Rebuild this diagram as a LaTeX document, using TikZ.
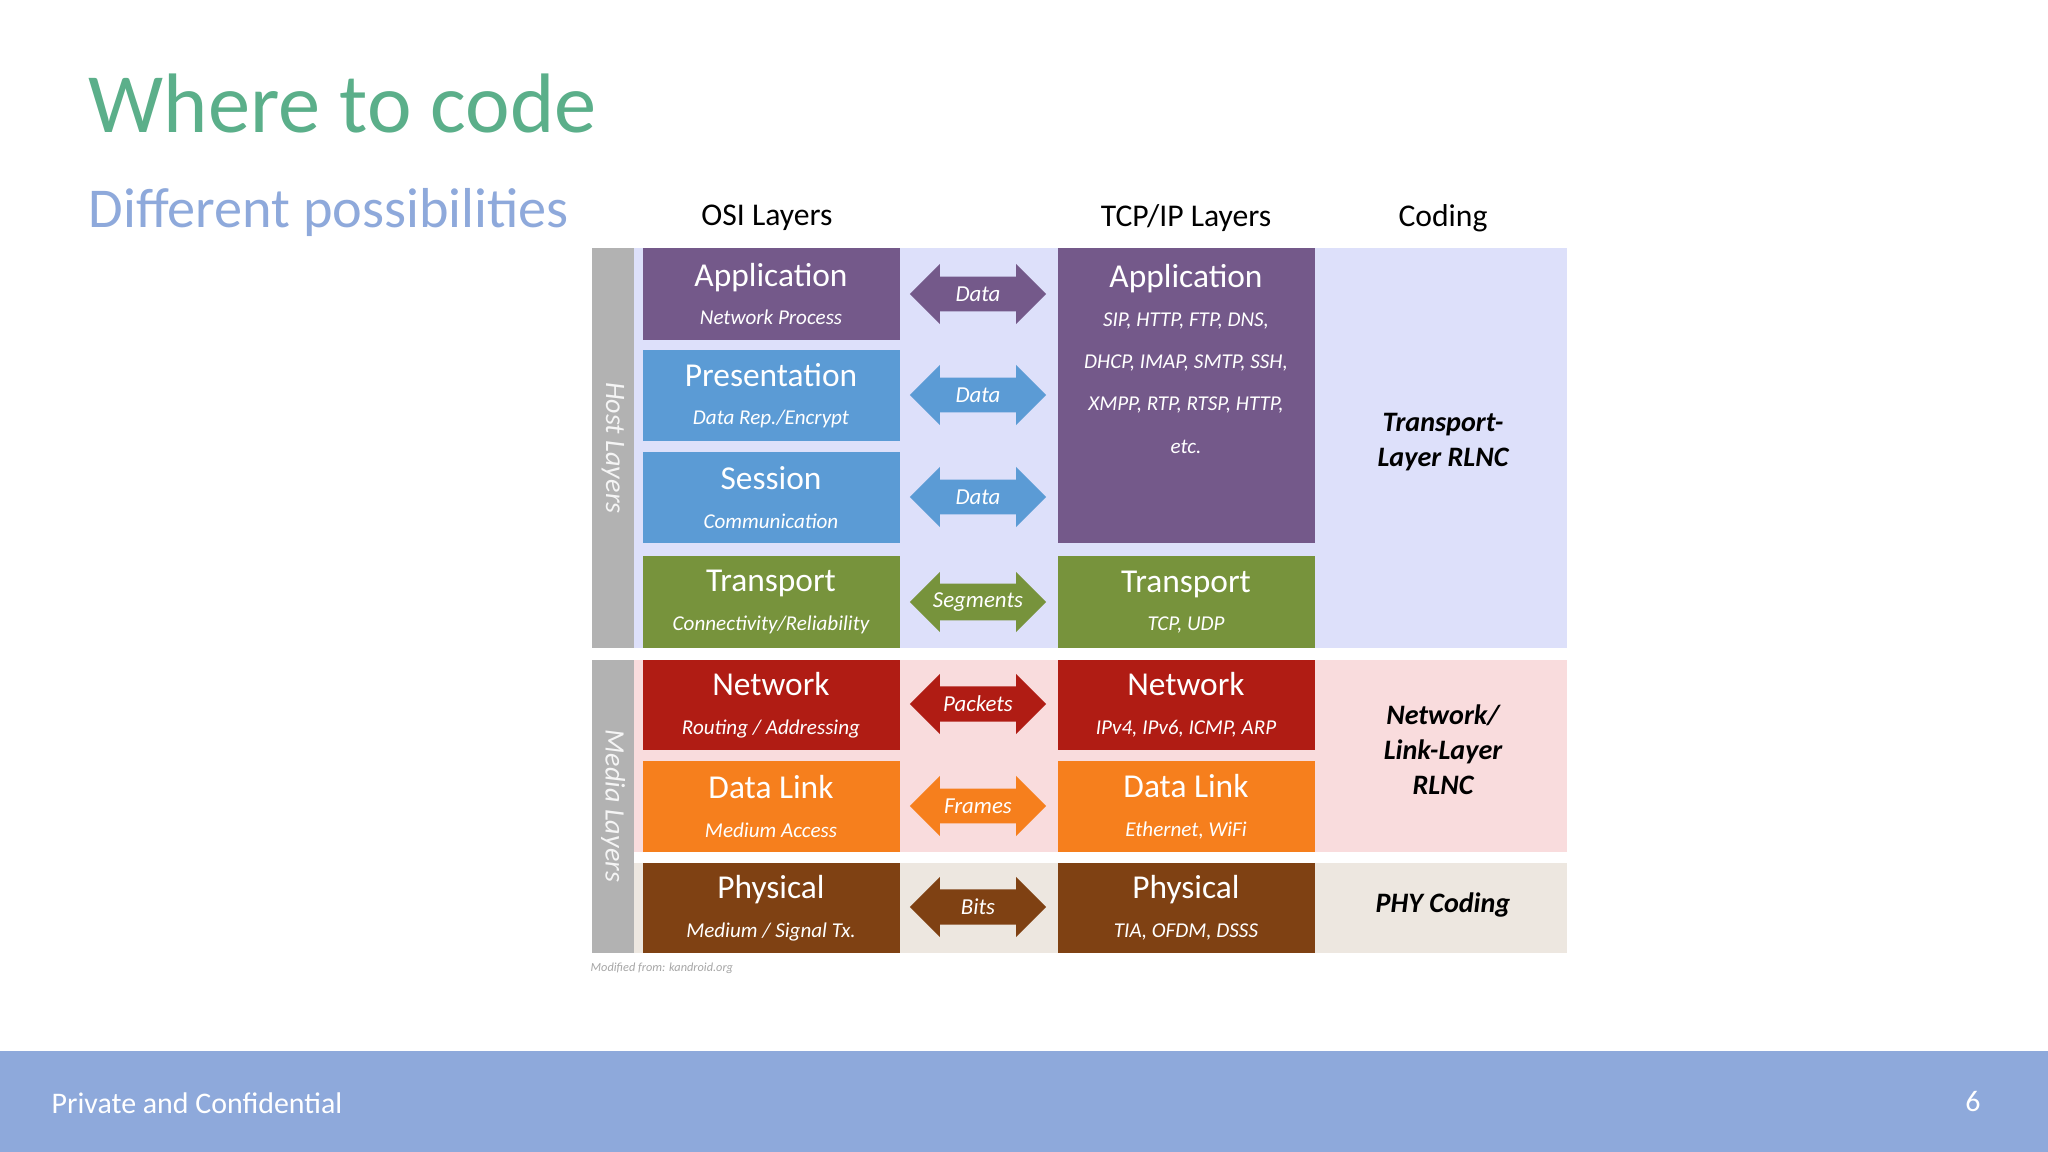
\documentclass[tikz,border=0pt]{standalone}
\usepackage{fontspec}
\setmainfont{Carlito}
\usetikzlibrary{shapes.arrows}
\definecolor{cpur}{HTML}{74598A}
\definecolor{cblu}{HTML}{5B9BD5}
\definecolor{cgrn}{HTML}{77933C}
\definecolor{cred}{HTML}{B01C14}
\definecolor{cora}{HTML}{F67F1D}
\definecolor{cbrn}{HTML}{7F4113}
\definecolor{clav}{HTML}{DDE0FA}
\definecolor{cpnk}{HTML}{F9DCDD}
\definecolor{cbei}{HTML}{EDE7E0}
\definecolor{cbar}{HTML}{8EA9DB}
\definecolor{ctit}{HTML}{5BAF8A}
\newcommand{\bigt}{\fontsize{9.5}{11}\selectfont\upshape}
\newcommand{\smt}{\fontsize{6}{8.2}\selectfont\itshape}
\begin{document}
\begin{tikzpicture}[x=0.01cm,y=-0.01cm,
  arr/.style={double arrow,fill=#1,draw=none,text=white,minimum height=1.36cm,minimum width=0.6cm,double arrow head extend=0.11cm,inner xsep=1pt,inner ysep=0.07cm,font=\fontsize{6.5}{7}\selectfont\itshape},
  hdr/.style={font=\fontsize{9}{11}\selectfont},
  cod/.style={font=\fontsize{8}{10}\selectfont\bfseries\itshape,align=center}]
\useasboundingbox (0,0) rectangle (2048,1152);
\fill[white] (0,0) rectangle (2048,1152);
% backgrounds
\fill[clav] (634,248) rectangle (1567,648);
\fill[cpnk] (634,660) rectangle (1567,852);
\fill[cbei] (634,863) rectangle (1567,953);
% side bars
\fill[gray!60] (592,248) rectangle (634,648);
\fill[gray!60] (592,660) rectangle (634,953);
\node[rotate=-90,text=white!92!gray,font=\fontsize{8}{10}\selectfont\itshape] (host) at (613,448) {Host Layers};
\node[rotate=-90,text=white!92!gray,font=\fontsize{8}{10}\selectfont\itshape] (media) at (613,806) {Media Layers};
% title
\node[anchor=base west,text=ctit,font=\fontsize{24}{28}\selectfont,inner sep=0pt] (title) at (88,133) {Where to code};
\node[anchor=base west,text=cbar,font=\fontsize{16}{20}\selectfont,inner sep=0pt] (subt) at (88,228) {Different possibilities};
% headers
\node[hdr] (h1) at (767,218) {OSI Layers};
\node[hdr] (h2) at (1186,218) {TCP/IP Layers};
\node[hdr] (h3) at (1443,218) {Coding};
% boxes
\newcommand{\lbox}[7]{%
  \fill[#4] (#1,#2) rectangle ++(257,#3);
  \node[text=white,align=center,inner sep=0pt] (#7) at ({#1+128},{#2+#3/2}) {\bigt #5\\[-1pt]\smt #6};}
\lbox{643}{248}{92}{cpur}{Application}{Network Process}{oapp}
\lbox{643}{350}{91}{cblu}{Presentation}{Data Rep./Encrypt}{opre}
\lbox{643}{452}{91}{cblu}{Session}{Communication}{oses}
\lbox{643}{556}{92}{cgrn}{Transport}{Connectivity/Reliability}{otra}
\lbox{643}{660}{90}{cred}{Network}{Routing / Addressing}{onet}
\lbox{643}{761}{91}{cora}{Data Link}{Medium Access}{odl}
\lbox{643}{863}{90}{cbrn}{Physical}{Medium / Signal Tx.}{ophy}
\fill[cpur] (1058,248) rectangle (1315,543);
\node[text=white,align=center,anchor=north,inner sep=0pt] (tapp) at (1186,264) {\bigt Application\\[-1pt]\smt SIP, HTTP, FTP, DNS,\\\smt DHCP, IMAP, SMTP, SSH,\\\smt XMPP, RTP, RTSP, HTTP,\\\smt etc.};
\lbox{1058}{556}{92}{cgrn}{Transport}{TCP, UDP}{ttra}
\lbox{1058}{660}{90}{cred}{Network}{IPv4, IPv6, ICMP, ARP}{tnet}
\lbox{1058}{761}{91}{cora}{Data Link}{Ethernet, WiFi}{tdl}
\lbox{1058}{863}{90}{cbrn}{Physical}{TIA, OFDM, DSSS}{tphy}
% arrows
\node[arr=cpur] (a1) at (978,294) {Data};
\node[arr=cblu] (a2) at (978,395) {Data};
\node[arr=cblu] (a3) at (978,497) {Data};
\node[arr=cgrn] (a4) at (978,602) {Segments};
\node[arr=cred] (a5) at (978,704) {Packets};
\node[arr=cora] (a6) at (978,806) {Frames};
\node[arr=cbrn] (a7) at (978,907) {Bits};
% coding
\node[cod] (c1) at (1443,442) {Transport-\\Layer RLNC};
\node[cod] (c2) at (1443,750) {Network/\\Link-Layer\\RLNC};
\node[cod] (c3) at (1443,905) {PHY Coding};
\node[anchor=west,text=gray!70,font=\fontsize{3.5}{4}\selectfont\itshape,inner sep=0pt] (credit) at (590,968) {Modified from: kandroid.org};
% footer
\fill[cbar] (0,1051) rectangle (2048,1152);
\node[anchor=west,text=white,font=\fontsize{8.5}{10}\selectfont,inner sep=0pt] (foot) at (51,1103) {Private and Confidential};
\node[text=white,font=\fontsize{8.5}{10}\selectfont,inner sep=0pt] (pg) at (1973,1102) {6};
\end{tikzpicture}
\end{document}
